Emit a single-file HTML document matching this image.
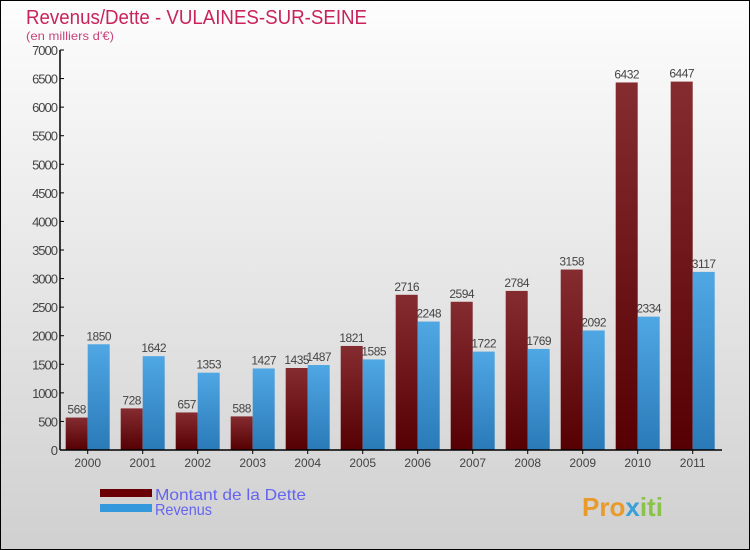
<!DOCTYPE html>
<html><head><meta charset="utf-8"><style>
body{margin:0}
#wrap{width:750px;height:550px;position:relative;overflow:hidden;font-family:"Liberation Sans",sans-serif}
</style></head><body>
<div id="wrap">
<svg id="svg" width="750" height="550" xmlns="http://www.w3.org/2000/svg">
<defs>
<linearGradient id="bg" x1="0" y1="0" x2="0" y2="1"><stop offset="0" stop-color="#fdfdfd"/><stop offset="1" stop-color="#d0d0d0"/></linearGradient>
<linearGradient id="gd" x1="0" y1="0" x2="0" y2="1"><stop offset="0" stop-color="#852c31"/><stop offset="1" stop-color="#560003"/></linearGradient>
<linearGradient id="gr" x1="0" y1="0" x2="0" y2="1"><stop offset="0" stop-color="#4fa7e3"/><stop offset="1" stop-color="#2a7ab8"/></linearGradient>
</defs>
<rect x="0.5" y="0.5" width="749" height="549" fill="url(#bg)" stroke="#000"/>
<text x="26" y="24" font-size="20" fill="#c8245a" textLength="341" lengthAdjust="spacingAndGlyphs">Revenus/Dette - VULAINES-SUR-SEINE</text>
<text x="26" y="40" font-size="12" fill="#c8447a" textLength="88" lengthAdjust="spacingAndGlyphs">(en milliers d'€)</text>
<g id="plot"></g>
<rect x="100" y="489" width="52" height="8" fill="#6a0005"/>
<text x="155" y="500" font-size="16" fill="#6464f0" textLength="151" lengthAdjust="spacingAndGlyphs">Montant de la Dette</text>
<rect x="100" y="504" width="52" height="8" fill="#3498dc"/>
<text x="155" y="515" font-size="16" fill="#6464f0" textLength="57" lengthAdjust="spacingAndGlyphs">Revenus</text>
<text x="582" y="516" font-size="26" font-weight="bold" fill="#e89a2a">Pro<tspan fill="#3aa0d8">x</tspan><tspan fill="#8bc34a">iti</tspan></text>
</svg>
</div>
<script>
const categories=["2000","2001","2002","2003","2004","2005","2006","2007","2008","2009","2010","2011"];
const dette=[568,728,657,588,1435,1821,2716,2594,2784,3158,6432,6447];
const revenus=[1850,1642,1353,1427,1487,1585,2248,1722,1769,2092,2334,3117];
const ticks=[0,500,1000,1500,2000,2500,3000,3500,4000,4500,5000,5500,6000,6500,7000];
const NS="http://www.w3.org/2000/svg";
const g=document.getElementById('plot');
const x0=60,y0=450,yMax=7000,h=400,step=55,bw=22;
const y=v=>y0-v/yMax*h;
const xc=i=>x0+5.7+i*step+bw;
function el(t,a){const e=document.createElementNS(NS,t);for(const k in a)e.setAttribute(k,a[k]);g.appendChild(e);return e;}
ticks.forEach(t=>{
  const l=el('line',{x1:x0,x2:x0+4,y1:y(t),y2:y(t),stroke:'#000'});
  
  
  const tx=el('text',{x:x0-3,y:y(t)+5,'font-size':13,'text-anchor':'end',fill:'#444','letter-spacing':'-1'});
  tx.textContent=t;
  
  
});
categories.forEach((c,i)=>{
  const cx=xc(i);
  const b1=el('rect',{x:cx-bw,y:y(dette[i]),width:bw,height:y0-y(dette[i]),fill:'url(#gd)'});
  
  
  const b2=el('rect',{x:cx,y:y(revenus[i]),width:bw,height:y0-y(revenus[i]),fill:'url(#gr)'});
  
  
  const t1=el('text',{x:cx-bw/2,y:y(dette[i])-4,'font-size':12,'text-anchor':'middle',fill:'#444','letter-spacing':'-0.5'});
  t1.textContent=dette[i];
  
  
  const t2=el('text',{x:cx+bw/2,y:y(revenus[i])-4,'font-size':12,'text-anchor':'middle',fill:'#444','letter-spacing':'-0.5'});
  t2.textContent=revenus[i];
  
  
  const tk=el('line',{x1:cx,x2:cx,y1:y0,y2:y0+4,stroke:'#000'});
  
  
  const xl=el('text',{x:cx,y:y0+17,'font-size':12,'text-anchor':'middle',fill:'#444'});
  xl.textContent=c;
  
  
});
const ya=el('line',{x1:x0,x2:x0,y1:y(7000),y2:y0,stroke:'#000','stroke-width':1.5});


const xa=el('line',{x1:x0,x2:722,y1:y0,y2:y0,stroke:'#000','stroke-width':1.5});


</script>
</body></html>
